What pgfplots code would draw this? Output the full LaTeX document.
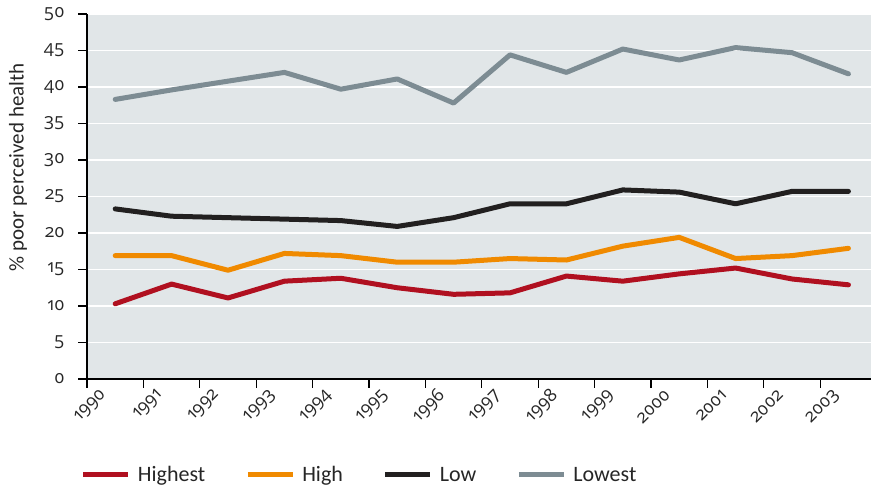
\documentclass[border=0pt]{standalone}
\usepackage{pgfplots}
\pgfplotsset{compat=1.18}
\usepackage{fontspec}
\setmainfont{Carlito}
\newfontfamily\osfont{Open Sans}[Numbers=OldStyle]
% old-style figures in a text box, so no math font can take over
\newcommand{\osn}[1]{\hbox{\osfont\fontsize{18}{20}\selectfont #1}}

\definecolor{bgc}{RGB}{225,230,232}
\definecolor{cHighest}{RGB}{176,16,32}
\definecolor{cHigh}{RGB}{240,138,0}
\definecolor{cLow}{RGB}{34,32,32}
\definecolor{cLowest}{RGB}{125,140,147}

\begin{document}
\begin{tikzpicture}
\begin{axis}[
    scale only axis,
    width=784pt, height=365pt,
    xmin=1990, xmax=2003.9,
    ymin=0, ymax=50,
    xtick={1990,1991,...,2003},
    xticklabels={\osn{1990},\osn{1991},\osn{1992},\osn{1993},\osn{1994},\osn{1995},\osn{1996},
        \osn{1997},\osn{1998},\osn{1999},\osn{2000},\osn{2001},\osn{2002},\osn{2003}},
    ytick={0,5,...,50},
    yticklabels={\osn{0},\osn{5},\osn{10},\osn{15},\osn{20},\osn{25},\osn{30},\osn{35},\osn{40},\osn{45},\osn{50}},
    axis lines=left,
    axis line style={-, line width=2.5pt, black},
    tick align=outside,
    major tick length=9pt,
    tick style={line width=1.2pt, black},
    ymajorgrids,
    grid style={white, line width=1.5pt},
    axis background/.style={fill=bgc},
    ticklabel style={text=black!85},
    yticklabel style={xshift=-10pt},
    xticklabel style={rotate=45, anchor=east, xshift=12pt, yshift=-15pt},
    ylabel={\% poor perceived health},
    ylabel style={font=\fontsize{21}{23}\selectfont, text=black!85, at={(rel axis cs:0,0.58)}, anchor=center, yshift=69pt},
    legend columns=4,
    legend style={draw=none, fill=none, at={(rel axis cs:-0.008,-0.263)}, anchor=west,
        font=\fontsize{22}{24}\selectfont, text=black!85, inner sep=0pt,
        /tikz/every even column/.append style={column sep=38pt}},
    legend image code/.code={\draw[#1, line width=5pt, line cap=butt] (0pt,0pt) -- (45pt,0pt); \path (50pt,0pt);},
    every axis plot/.append style={line width=5pt, line cap=round, line join=round},
]
\addplot[cHighest] coordinates {
(1990.5,10.3) (1991.5,13.0) (1992.5,11.1) (1993.5,13.4) (1994.5,13.8) (1995.5,12.5) (1996.5,11.6)
(1997.5,11.8) (1998.5,14.1) (1999.5,13.4) (2000.5,14.4) (2001.5,15.2) (2002.5,13.7) (2003.5,12.9)};
\addlegendentry{Highest}
\addplot[cHigh] coordinates {
(1990.5,16.9) (1991.5,16.9) (1992.5,14.9) (1993.5,17.2) (1994.5,16.9) (1995.5,16.0) (1996.5,16.0)
(1997.5,16.5) (1998.5,16.3) (1999.5,18.2) (2000.5,19.4) (2001.5,16.5) (2002.5,16.9) (2003.5,17.9)};
\addlegendentry{High}
\addplot[cLow] coordinates {
(1990.5,23.3) (1991.5,22.3) (1992.5,22.1) (1993.5,21.9) (1994.5,21.7) (1995.5,20.9) (1996.5,22.1)
(1997.5,24.0) (1998.5,24.0) (1999.5,25.9) (2000.5,25.6) (2001.5,24.0) (2002.5,25.7) (2003.5,25.7)};
\addlegendentry{Low}
\addplot[cLowest] coordinates {
(1990.5,38.3) (1991.5,39.6) (1992.5,40.8) (1993.5,42.0) (1994.5,39.7) (1995.5,41.1) (1996.5,37.8)
(1997.5,44.4) (1998.5,42.0) (1999.5,45.2) (2000.5,43.7) (2001.5,45.4) (2002.5,44.7) (2003.5,41.8)};
\addlegendentry{Lowest}
\end{axis}
\pgfresetboundingbox
\path[use as bounding box] (-87pt,-110pt) rectangle (784pt,379pt);
\end{tikzpicture}
\end{document}
